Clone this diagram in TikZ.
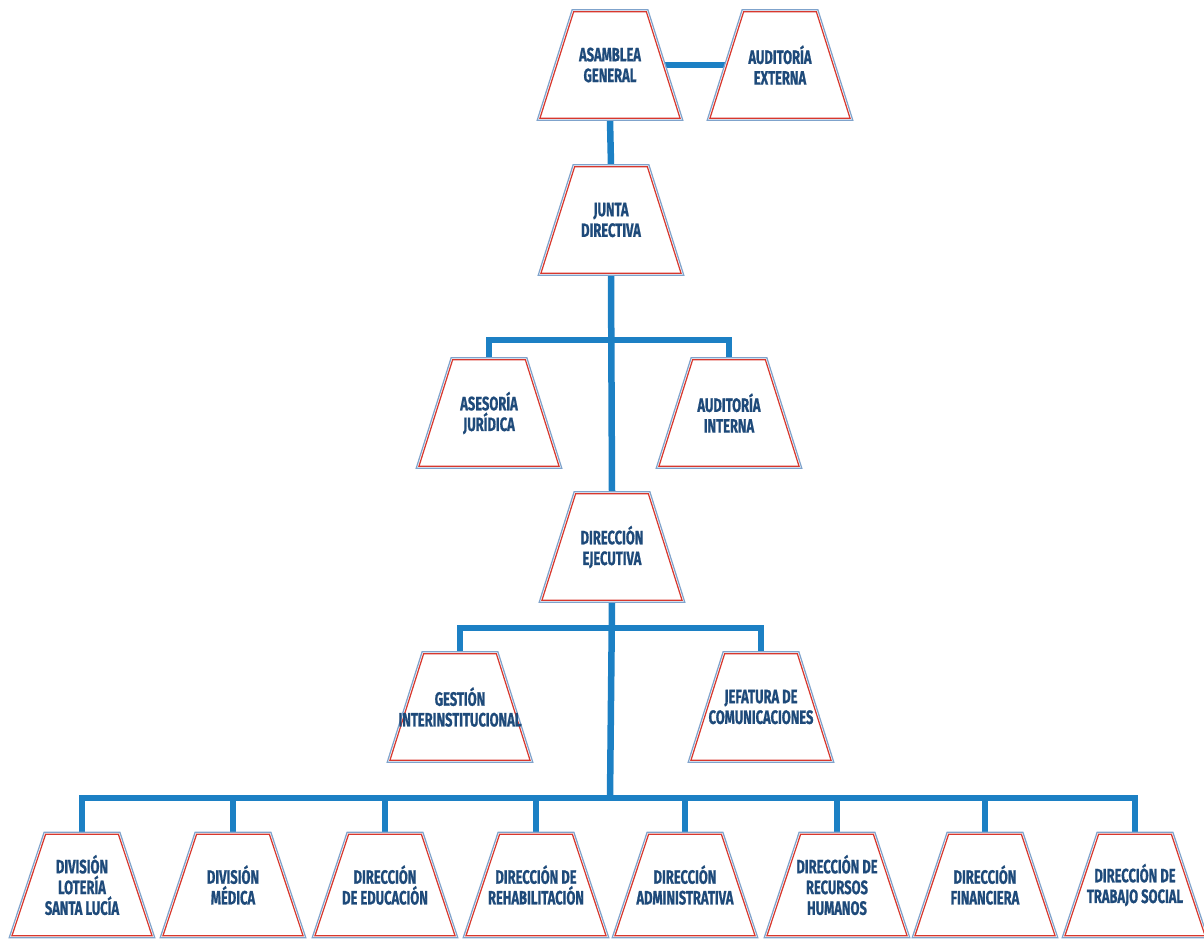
\documentclass[tikz,border=0pt]{standalone}
\usepackage{fontspec}
\newfontfamily\orgfont{Fira Sans}[FakeStretch=0.67,BoldFeatures={FakeBold=0.8}]
\usepackage{tikz}
\usetikzlibrary{positioning,calc,backgrounds}

\definecolor{linkblue}{HTML}{1C80C4}
\definecolor{edgeblue}{HTML}{7FA3CC}
\definecolor{edgered}{HTML}{D8382E}
\definecolor{textnavy}{HTML}{1E4A7A}

\tikzset{
  orgbox/.style={rectangle,minimum width=2.9cm,inner xsep=0pt,inner ysep=1pt,align=center,text=textnavy,
    font=\orgfont\bfseries\fontsize{11}{11.8}\selectfont},
  outeredge/.style={draw=edgeblue,fill=white,line width=0.7pt},
  inneredge/.style={draw=edgered,line width=0.7pt},
  link/.style={draw=linkblue,line width=3.7pt}
}

% trapezoid box with red inner edge
\newcommand{\orgnode}[4][2.2cm]{%
  \node[orgbox,minimum height=#1] (#2) at (#3) {};
  \draw[outeredge] (#2.south west) -- ([xshift=0.7cm]#2.north west) -- ([xshift=-0.7cm]#2.north east) -- (#2.south east) -- cycle;
  \draw[inneredge] ([shift={(0.055cm,0.04cm)}]#2.south west) -- ([shift={(0.73cm,-0.04cm)}]#2.north west)
    -- ([shift={(-0.73cm,-0.04cm)}]#2.north east) -- ([shift={(-0.055cm,0.04cm)}]#2.south east) -- cycle;
  \node[orgbox,minimum height=#1] at (#2.center) {#4};}

\begin{document}
\begin{tikzpicture}[x=0.02cm,y=-0.02cm]

\useasboundingbox (0,0) rectangle (1204,941);

\orgnode{asamblea}{610,65}{ASAMBLEA\\GENERAL}
\orgnode{audext}{780,65}{AUDITORÍA\\EXTERNA}

\orgnode{junta}{611,220}{JUNTA\\DIRECTIVA}

\orgnode{asesoria}{489,413}{ASESORÍA\\JURÍDICA}
\orgnode{audint}{729,413}{AUDITORÍA\\INTERNA}

\orgnode{direje}{612,547}{DIRECCIÓN\\EJECUTIVA}

\orgnode{gestion}{460,707}{GESTIÓN\\INTERINSTITUCIONAL}
\orgnode{jefatura}{761,707}{JEFATURA DE\\COMUNICACIONES}

%bottom row
\orgnode[2.1cm]{lot}{82,885}{DIVISIÓN\\LOTERÍA\\SANTA LUCÍA}
\orgnode[2.1cm]{med}{233,885}{DIVISIÓN\\MÉDICA}
\orgnode[2.1cm]{edu}{385,885}{DIRECCIÓN\\DE EDUCACIÓN}
\orgnode[2.1cm]{reh}{536,885}{DIRECCIÓN DE\\REHABILITACIÓN}
\orgnode[2.1cm]{adm}{685,885}{DIRECCIÓN\\ADMINISTRATIVA}
\orgnode[2.1cm]{rrhh}{837,885}{DIRECCIÓN DE\\RECURSOS\\HUMANOS}
\orgnode[2.1cm]{fin}{985,885}{DIRECCIÓN\\FINANCIERA}
\orgnode[2.1cm]{tsoc}{1135,885}{DIRECCIÓN DE\\TRABAJO SOCIAL}

\coordinate (b1) at (610,340);
\coordinate (b2) at (610,628);
\coordinate (b3) at (610,798);

\begin{pgfonlayer}{background}
\draw[link] (asamblea.center) -- (audext.center);
\draw[link] (asamblea.south) -- (junta.north);
\draw[link] (junta.south) -- (direje.north);
\draw[link] (asesoria.north) |- (b1) -| (audint.north);

\draw[link] (direje.south) -- (b3);
\draw[link] (gestion.north) |- (b2) -| (jefatura.north);

\foreach \n in {lot,med,edu,reh,adm,rrhh,fin,tsoc}
  \draw[link] (\n.north) |- (b3);
\end{pgfonlayer}

\end{tikzpicture}
\end{document}
